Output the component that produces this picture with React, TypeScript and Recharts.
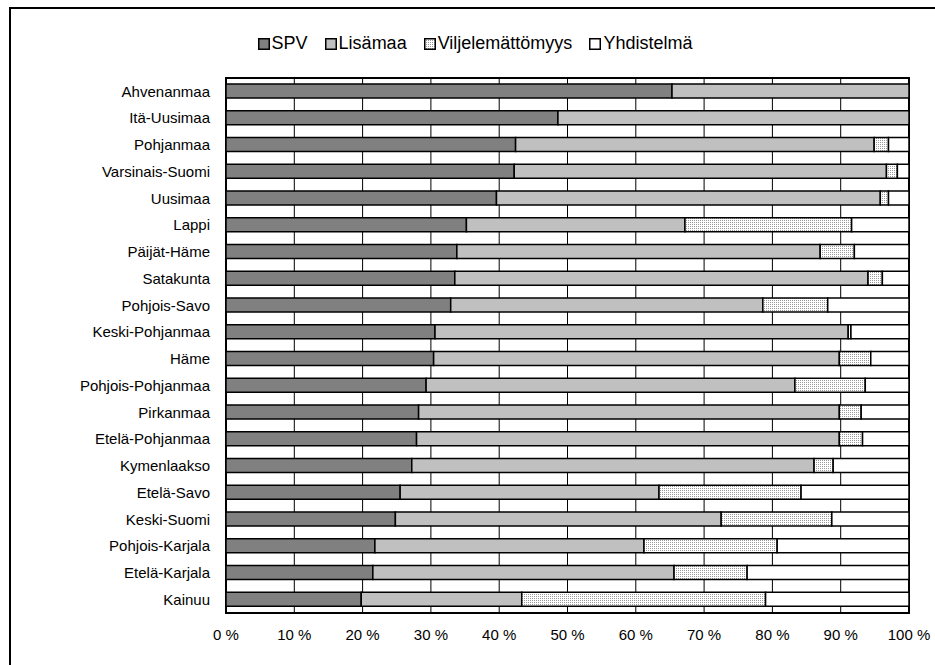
import React from 'react';
import {
  BarChart,
  Bar,
  XAxis,
  YAxis,
  CartesianGrid,
  ReferenceArea,
} from 'recharts';

const regions = [
  'Ahvenanmaa', 'Itä-Uusimaa', 'Pohjanmaa', 'Varsinais-Suomi', 'Uusimaa',
  'Lappi', 'Päijät-Häme', 'Satakunta', 'Pohjois-Savo', 'Keski-Pohjanmaa',
  'Häme', 'Pohjois-Pohjanmaa', 'Pirkanmaa', 'Etelä-Pohjanmaa', 'Kymenlaakso',
  'Etelä-Savo', 'Keski-Suomi', 'Pohjois-Karjala', 'Etelä-Karjala', 'Kainuu',
];
const spv = [65.3, 48.6, 42.4, 42.2, 39.6, 35.2, 33.8, 33.5, 32.9, 30.6, 30.4, 29.3, 28.2, 27.9, 27.2, 25.5, 24.8, 21.8, 21.5, 19.8];
const lisamaa = [34.7, 51.4, 52.5, 54.5, 56.2, 32.0, 53.2, 60.5, 45.7, 60.5, 59.4, 54.0, 61.6, 61.9, 58.9, 37.9, 47.7, 39.4, 44.1, 23.5];
const viljelemattomyys = [0, 0, 2.1, 1.6, 1.2, 24.4, 5.0, 2.1, 9.5, 0.4, 4.6, 10.3, 3.2, 3.4, 2.8, 20.8, 16.2, 19.5, 10.7, 35.7];
const yhdistelma = [0, 0, 3.0, 1.7, 3.0, 8.4, 8.0, 3.9, 11.9, 8.5, 5.6, 6.4, 7.0, 6.8, 11.1, 15.8, 11.3, 19.3, 23.7, 21.0];
const xTicks = [0, 10, 20, 30, 40, 50, 60, 70, 80, 90, 100];

const data = regions.map((name, i) => ({
  name,
  spv: spv[i],
  lisamaa: lisamaa[i],
  vilj: viljelemattomyys[i],
  yhd: yhdistelma[i],
}));

const FONT = '"Liberation Sans", Arial, sans-serif';

const legendItems = [
  { label: 'SPV', fill: '#808080' },
  { label: 'Lisämaa', fill: '#c0c0c0' },
  { label: 'Viljelemättömyys', fill: 'url(#dotsLegend)' },
  { label: 'Yhdistelmä', fill: '#ffffff' },
];

const Legend = () => (
  <div
    style={{
      position: 'absolute',
      top: 33,
      left: 0,
      width: 950,
      display: 'flex',
      justifyContent: 'center',
      fontFamily: FONT,
      fontSize: 18,
      color: '#000',
    }}
  >
    <svg width={0} height={0} style={{ position: 'absolute' }}>
      <defs>
        <pattern id="dotsLegend" width={2} height={2} patternUnits="userSpaceOnUse">
          <rect width={2} height={2} fill="#fff" />
          <rect width={1} height={1} fill="#9a9a9a" />
        </pattern>
      </defs>
    </svg>
    {legendItems.map((it, i) => (
      <div
        key={it.label}
        style={{ display: 'flex', alignItems: 'center', marginRight: i < legendItems.length - 1 ? 17 : 0 }}
      >
        <svg width={12} height={12} style={{ marginRight: 2 }}>
          <rect x={0.75} y={0.75} width={10.5} height={10.5} fill={it.fill} stroke="#000" strokeWidth={1.5} />
        </svg>
        <span>{it.label}</span>
      </div>
    ))}
  </div>
);

export default function App() {
  return (
    <div
      style={{
        position: 'absolute',
        left: 0,
        top: 0,
        width: 935,
        height: 665,
        overflow: 'hidden',
        background: '#fff',
      }}
    >
      <div
        style={{
          position: 'absolute',
          left: 9,
          top: 7,
          width: 1000,
          height: 1000,
          border: '2px solid #000',
        }}
      />
      <Legend />
      <div style={{ position: 'absolute', left: 0, top: 0 }}>
        <BarChart
          width={935}
          height={665}
          data={data}
          layout="vertical"
          margin={{ top: 78, right: 26, left: 10, bottom: 22 }}
        >
          <defs>
            <pattern id="dots" width={2} height={2} patternUnits="userSpaceOnUse">
              <rect width={2} height={2} fill="#fff" />
              <rect width={1} height={1} fill="#9a9a9a" />
            </pattern>
          </defs>
          <CartesianGrid horizontal={false} stroke="#000" strokeWidth={1} />
          <XAxis
            type="number"
            domain={[0, 100]}
            ticks={xTicks}
            interval={0}
            tickFormatter={(v) => `${v} %`}
            axisLine={false}
            tickLine={false}
            tickMargin={10}
            height={30}
            tick={{ fill: '#000', fontSize: 15, fontFamily: FONT }}
          />
          <YAxis
            type="category"
            dataKey="name"
            width={216}
            axisLine={false}
            tickLine={false}
            tickMargin={10}
            interval={0}
            tick={{ fill: '#000', fontSize: 15, fontFamily: FONT }}
          />
          <Bar dataKey="spv" stackId="a" barSize={14} fill="#808080" stroke="#000" strokeWidth={1.5} isAnimationActive={false} />
          <Bar dataKey="lisamaa" stackId="a" barSize={14} fill="#c0c0c0" stroke="#000" strokeWidth={1.5} isAnimationActive={false} />
          <Bar dataKey="vilj" stackId="a" barSize={14} fill="url(#dots)" stroke="#000" strokeWidth={1.5} isAnimationActive={false} />
          <Bar dataKey="yhd" stackId="a" barSize={14} fill="#ffffff" stroke="#000" strokeWidth={1.5} isAnimationActive={false} />
          <ReferenceArea x1={0} x2={100} fill="none" stroke="#000" strokeWidth={2} fillOpacity={0} />
        </BarChart>
      </div>
    </div>
  );
}
